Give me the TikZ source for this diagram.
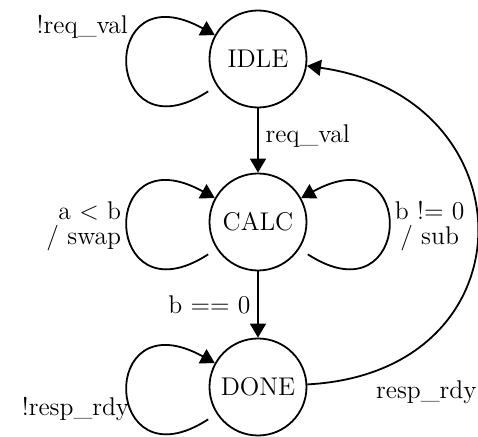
\documentclass[tikz,border=0pt]{standalone}
\usetikzlibrary{arrows.meta}

\begin{document}
\begin{tikzpicture}[x=0.5pt,y=0.5pt,line width=0.9pt,
    every node/.style={font=\fontsize{12.8}{12.5}\selectfont},
    state/.style={circle,draw,minimum size=48.5pt,inner sep=0pt},
    tr/.style={-{Triangle[length=7pt,width=8pt]}},
    selfloop/.style={out=#1+213,in=#1+151,looseness=6.8,shorten <=5pt}]
  \useasboundingbox (0,0) rectangle (478,-437);
  \node[state] (idle) at (258,-59) {IDLE};
  \node[state] (calc) at (258,-222) {CALC};
  \node[state] (done) at (258,-387) {DONE};
  % self loops
  \path[tr] (idle) edge [selfloop=0] node [pos=0.7,left,xshift=-3pt,yshift=2pt] (lidle) {!req\_val} (idle);
  \path[tr] (calc) edge [selfloop=0] node [midway,left,align=right] (lswap) {a < b\\/ swap} (calc);
  \path[tr] (calc) edge [out=-33,in=29,looseness=6.8,shorten <=5pt] node [midway,right,align=center] (lsub) {b != 0\\/ sub} (calc);
  \path[tr] (done) edge [selfloop=0] node [pos=0.4,left,xshift=2pt] (ldone) {!resp\_rdy} (done);
  % forward path
  \draw[tr] (idle) -- node [midway,right,yshift=2pt] (lreq) {req\_val} (calc);
  \draw[tr] (calc) -- node [midway,left] (lzero) {b == 0} (done);
  % back to IDLE
  \path[tr] (done) edge [out=3,in=-8,looseness=1.83] node [pos=0.1,anchor=north west] (lresp) {resp\_rdy} (idle);
\end{tikzpicture}
\end{document}
